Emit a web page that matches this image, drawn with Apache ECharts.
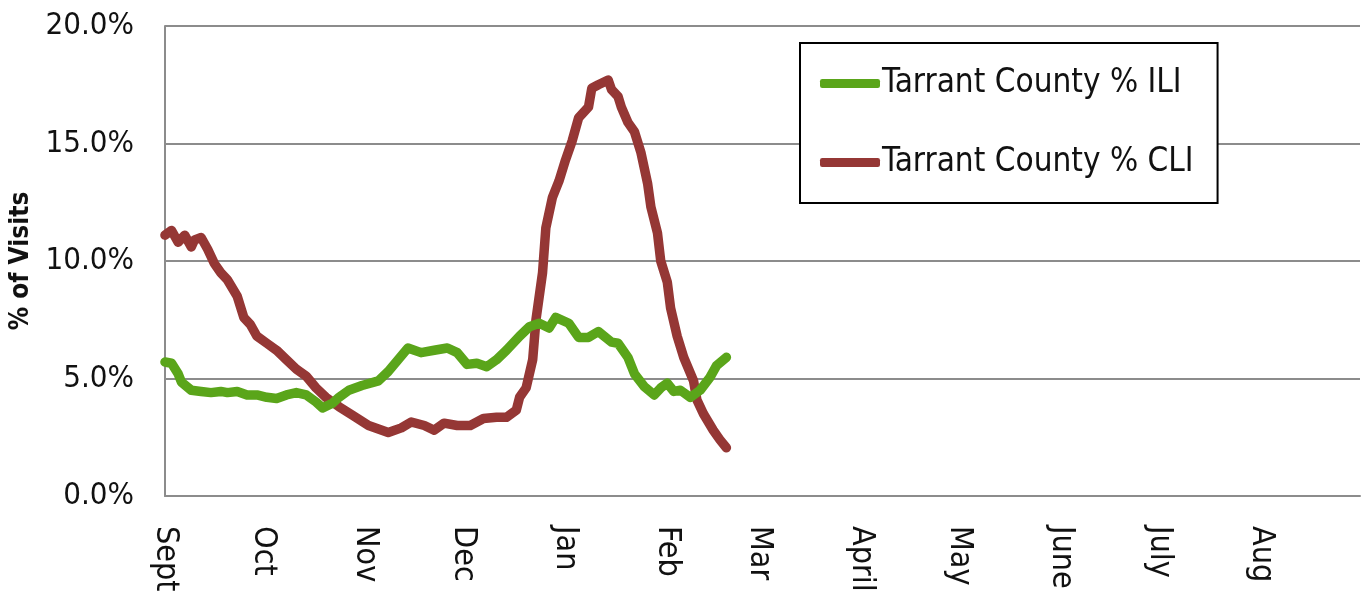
<!DOCTYPE html>
<html>
<head>
<meta charset="utf-8">
<script src="https://cdn.jsdelivr.net/npm/echarts@6/dist/echarts.min.js"></script>
<style>
html,body{margin:0;padding:0;background:#fff;}
#chart{width:1368px;height:596px;}
</style>
</head>
<body>
<div id="chart"></div>
<script>
// Month tick labels and month lengths (daily axis from Sept 1)
var monthLabels = ['Sept','Oct','Nov','Dec','Jan','Feb','Mar','April','May','June','July','Aug'];
var monthDays   = [30,31,30,31,31,28,31,30,31,30,31,31];

// Tarrant County % ILI  (day index from Sept 1, value in %)
var iliDays   = [0,2,4,5,8,11,14,17,19,22,25,28,31,34,37,40,43,46,48,51,53,56,60,65,68,71,74,78,82,86,89,92,95,98,101,104,108,111,114,117,119,123,126,129,132,136,138,141,143,146,149,151,153,155,157,160,163,166,168,171];
var iliValues = [5.7,5.65,5.2,4.85,4.5,4.45,4.4,4.45,4.4,4.45,4.3,4.3,4.2,4.15,4.3,4.4,4.3,4.0,3.75,3.95,4.2,4.5,4.7,4.9,5.3,5.8,6.3,6.1,6.2,6.3,6.1,5.6,5.65,5.5,5.8,6.2,6.8,7.2,7.35,7.15,7.6,7.35,6.75,6.75,7.0,6.55,6.5,5.9,5.2,4.65,4.3,4.6,4.8,4.45,4.5,4.2,4.5,5.05,5.55,5.9];

// Tarrant County % CLI
var cliDays   = [0,2,4,6,8,9,11,13,15,17,19,22,24,26,28,31,34,37,40,43,46,49,53,57,62,68,72,75,79,82,85,89,93,97,101,104,107,108,110,112,113,115,116,118,120,122,124,126,129,130,132,135,136,138,139,141,143,145,147,148,150,151,153,154,156,158,161,162,164,167,169,171];
var cliValues = [11.1,11.3,10.8,11.1,10.6,10.9,11.0,10.5,9.9,9.5,9.2,8.5,7.6,7.3,6.8,6.5,6.2,5.8,5.4,5.1,4.6,4.2,3.8,3.45,3.0,2.7,2.9,3.15,3.0,2.8,3.1,3.0,3.0,3.3,3.35,3.35,3.65,4.2,4.6,5.8,7.5,9.5,11.4,12.7,13.4,14.3,15.1,16.1,16.55,17.35,17.5,17.7,17.3,17.0,16.55,15.9,15.5,14.6,13.3,12.3,11.2,10.0,9.1,8.0,6.8,5.9,4.9,4.1,3.5,2.8,2.4,2.05];

// Build the daily category axis
var categories = [];
var labelAt = {};
(function(){
  var idx = 0;
  for (var m = 0; m < monthLabels.length; m++) {
    labelAt[idx] = monthLabels[m];
    for (var d = 1; d <= monthDays[m]; d++) {
      categories.push(monthLabels[m] + ' ' + d);
      idx++;
    }
  }
})();

function zip(xs, ys){ return xs.map(function(x,i){ return [x, ys[i]]; }); }

var FONT = "'DejaVu Sans Condensed','Liberation Sans Narrow','DejaVu Sans',sans-serif";
var gridColor = '#8c8c8c';

var chart = echarts.init(document.getElementById('chart'), null, {renderer:'canvas'});
chart.setOption({
  animation: false,
  backgroundColor: '#ffffff',
  textStyle: { fontFamily: FONT },
  grid: { left: 165, right: 8, top: 26, bottom: 100, containLabel: false, outerBoundsMode: 'none' },
  legend: {
    orient: 'vertical',
    left: 800, top: 43,
    padding: [24, 24, 24, 20],
    borderColor: '#000', borderWidth: 2,
    backgroundColor: '#fff',
    icon: 'roundRect',
    itemWidth: 60, itemHeight: 9,
    itemGap: 46,
    textStyle: { fontFamily: FONT, fontSize: 33, color: '#111', lineHeight: 33, padding: [0,0,0,-3] },
    data: ['Tarrant County % ILI', 'Tarrant County % CLI']
  },
  xAxis: {
    type: 'category',
    data: categories,
    boundaryGap: false,
    axisLine: { show: true, lineStyle: { color: gridColor, width: 2 } },
    axisTick: { show: false },
    splitLine: { show: false },
    axisLabel: {
      interval: function(index){ return labelAt[index] !== undefined; },
      formatter: function(value, index){ return labelAt[index] || ''; },
      rotate: -90,
      margin: 30,
      fontSize: 32,
      fontFamily: FONT,
      color: '#111'
    }
  },
  yAxis: {
    type: 'value',
    min: 0, max: 20, interval: 5,
    name: '% of Visits',
    nameLocation: 'middle',
    nameGap: 129,
    nameRotate: 90,
    nameTextStyle: { fontFamily: FONT, fontSize: 26, fontWeight: 'bold', color: '#111' },
    axisLine: { show: true, lineStyle: { color: gridColor, width: 2 } },
    axisTick: { show: false },
    splitLine: { show: true, lineStyle: { color: gridColor, width: 2 } },
    axisLabel: {
      formatter: function(v){ return v.toFixed(1) + '%'; },
      fontSize: 31, fontFamily: FONT, color: '#111', margin: 31
    }
  },
  series: [
    {
      name: 'Tarrant County % ILI',
      type: 'line',
      data: zip(iliDays, iliValues),
      symbol: 'none',
      color: '#5aa51a',
      lineStyle: { width: 9.5, color: '#5aa51a', cap: 'round', join: 'round' },
      z: 3
    },
    {
      name: 'Tarrant County % CLI',
      type: 'line',
      data: zip(cliDays, cliValues),
      symbol: 'none',
      color: '#953735',
      lineStyle: { width: 9.5, color: '#953735', cap: 'round', join: 'round' },
      z: 2
    }
  ]
});
</script>
</body>
</html>
